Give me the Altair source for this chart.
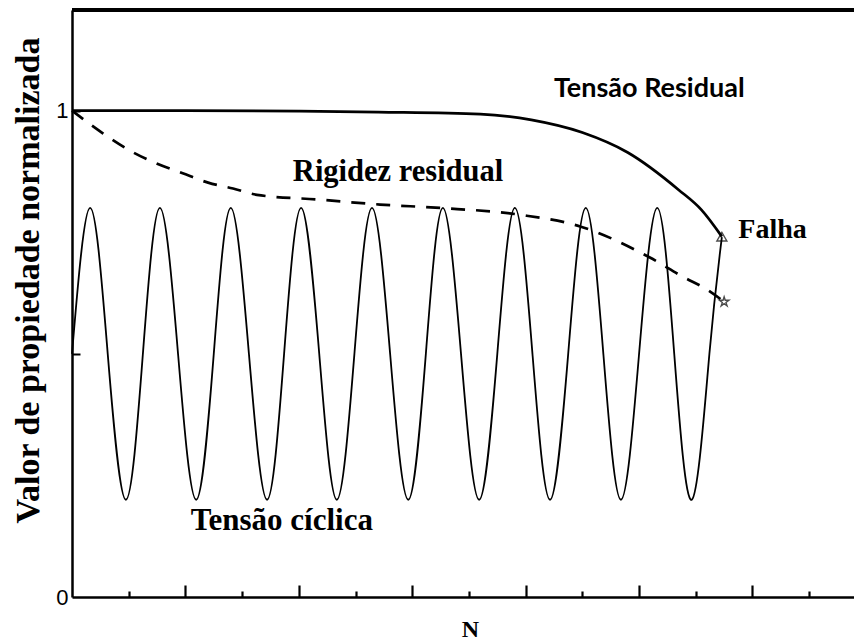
import altair as alt
import pandas as pd

# Cyclic stress: crossings, peaks and troughs along N
wave_n = [0.00, 0.32, 0.63, 0.95, 1.25, 1.55, 1.87, 2.19, 2.50, 2.80, 3.12,
          3.44, 3.74, 4.04, 4.36, 4.67, 4.98, 5.29, 5.61, 5.93, 6.24, 6.54,
          6.86, 7.18, 7.50, 7.81, 8.12, 8.43, 8.75, 9.06, 9.37, 9.68, 10.00,
          10.32, 10.62, 10.93, 11.24, 11.46]
wave_v = [0.50, 0.80, 0.50, 0.20, 0.50, 0.80, 0.50, 0.20, 0.50, 0.80, 0.50,
          0.20, 0.50, 0.80, 0.50, 0.20, 0.50, 0.80, 0.50, 0.20, 0.50, 0.80,
          0.50, 0.20, 0.50, 0.80, 0.50, 0.20, 0.50, 0.80, 0.50, 0.20, 0.50,
          0.80, 0.50, 0.20, 0.50, 0.74]

# Residual strength
strength_n = [0.0, 2.0, 4.0, 5.4, 7.2, 8.1, 9.0, 9.8, 10.7, 11.1, 11.46]
strength_v = [1.0, 1.0, 0.999, 0.997, 0.993, 0.981, 0.955, 0.914, 0.837, 0.796, 0.741]

# Residual stiffness
stiffness_n = [0.0, 0.55, 1.02, 1.46, 1.94, 2.40, 2.84, 3.26, 4.37, 5.43, 6.49,
               7.90, 8.96, 10.19, 10.78, 11.20, 11.50]
stiffness_v = [1.0, 0.953, 0.918, 0.893, 0.872, 0.852, 0.840, 0.827, 0.817, 0.807,
               0.800, 0.786, 0.762, 0.698, 0.658, 0.632, 0.607]

# Failure points
fail_n = [11.46, 11.50]
fail_v = [0.741, 0.607]

x_ticks = list(range(1, 14))
y_labels = [0, 1]
y_ticks = [0.5, 1]

W, H = 782, 587
SERIF = "Liberation Serif"

x_scale = alt.Scale(domain=[0, 13.79], nice=False, zero=False)
y_scale = alt.Scale(domain=[0, 1.207], nice=False, zero=False)

X = alt.X("N:Q", scale=x_scale, axis=None)
Y = alt.Y("v:Q", scale=y_scale, axis=None)

wave = pd.DataFrame({"N": wave_n, "v": wave_v})
strength = pd.DataFrame({"N": strength_n, "v": strength_v})
stiffness = pd.DataFrame({"N": stiffness_n, "v": stiffness_v})

x_main = alt.X("N:Q", scale=x_scale, axis=alt.Axis(
    orient="bottom", domainColor="black", domainWidth=2.5, ticks=False,
    labels=False, grid=False, title="N", titleFont=SERIF,
    titleFontWeight="bold", titleFontSize=24, titleColor="black",
    titleX=398, titleY=32, titleBaseline="middle", titleAlign="center"))
y_main = alt.Y("v:Q", scale=y_scale, axis=alt.Axis(
    orient="left", values=y_labels, format="d", domainColor="black",
    domainWidth=2.5, ticks=False, labelFont="Liberation Sans",
    labelFontSize=22, labelColor="black", labelPadding=4, grid=False,
    title="Valor de propiedade normalizada", titleFont=SERIF,
    titleFontWeight="bold", titleFontSize=34, titleColor="black",
    titleAngle=270, titleX=-44, titleY=270, titleAlign="center",
    titleBaseline="middle"))

wave_line = alt.Chart(wave).mark_line(
    color="black", strokeWidth=1.8, interpolate="natural"
).encode(x=x_main, y=y_main)

strength_line = alt.Chart(strength).mark_line(
    color="black", strokeWidth=2.7, interpolate="monotone"
).encode(x=X, y=Y)

stiffness_line = alt.Chart(stiffness).mark_line(
    color="black", strokeWidth=2.7, strokeDash=[14, 11], interpolate="monotone"
).encode(x=X, y=Y)

fail_pts = pd.DataFrame({"N": fail_n, "v": fail_v, "kind": ["resistencia", "rigidez"]})
star = ("M0,-1L0.22,-0.31L0.95,-0.31L0.36,0.12L0.59,0.81L0,0.38L-0.59,0.81"
        "L-0.36,0.12L-0.95,-0.31L-0.22,-0.31Z")
fail_marks = alt.Chart(fail_pts).mark_point(
    color="black", filled=False, strokeWidth=1.4, size=100
).encode(
    x=X, y=Y,
    shape=alt.Shape("kind:N", scale=alt.Scale(
        domain=["resistencia", "rigidez"], range=["triangle-up", star]), legend=None)
)

# Tick marks pointing into the plot along the N axis
x_tick_axis = alt.Chart(wave).mark_line(opacity=0).encode(
    x=alt.X("N:Q", scale=x_scale, axis=alt.Axis(
        orient="top", offset=-H, values=x_ticks, labels=False, domain=False,
        title=None, grid=False, tickColor="black", tickWidth=2.2,
        tickSize={"condition": {"test": "datum.value % 2 === 0", "value": 12}, "value": 6})),
    y=Y
)
# Tick marks pointing into the plot along the value axis
y_tick_axis = alt.Chart(wave).mark_line(opacity=0).encode(
    x=X,
    y=alt.Y("v:Q", scale=y_scale, axis=alt.Axis(
        orient="right", offset=-W, values=y_ticks, labels=False, domain=False,
        title=None, grid=False, tickColor="black", tickWidth=2, tickSize=8))
)

top_border = alt.Chart(wave).mark_rule(color="black", strokeWidth=2.5).encode(
    x=alt.value(0), x2=alt.value(W), y=alt.value(0)
)

def label(text, n, v, font, size, align="center"):
    return alt.Chart(pd.DataFrame({"t": [text], "N": [n], "v": [v]})).mark_text(
        font=font, fontSize=size, fontWeight="bold", color="black",
        align=align, baseline="middle"
    ).encode(x=X, y=Y, text="t:N")

labels = [
    label("Tensão Residual", 10.18, 1.044, "Lato", 27),
    label("Rigidez residual", 5.75, 0.874, SERIF, 30.5),
    label("Falha", 11.75, 0.754, SERIF, 28, align="left"),
    label("Tensão cíclica", 3.70, 0.156, SERIF, 31),
]

chart = alt.layer(
    wave_line, strength_line, stiffness_line, fail_marks,
    x_tick_axis, y_tick_axis, top_border, *labels
).resolve_axis(x="independent", y="independent").properties(
    width=W, height=H,
    autosize=alt.AutoSizeParams(type="none"),
    padding={"left": 72, "top": 10, "right": 0, "bottom": 45},
).configure_view(stroke=None).configure(background="white")

chart.save("out.html", embed_options={"renderer": "svg", "actions": False})
